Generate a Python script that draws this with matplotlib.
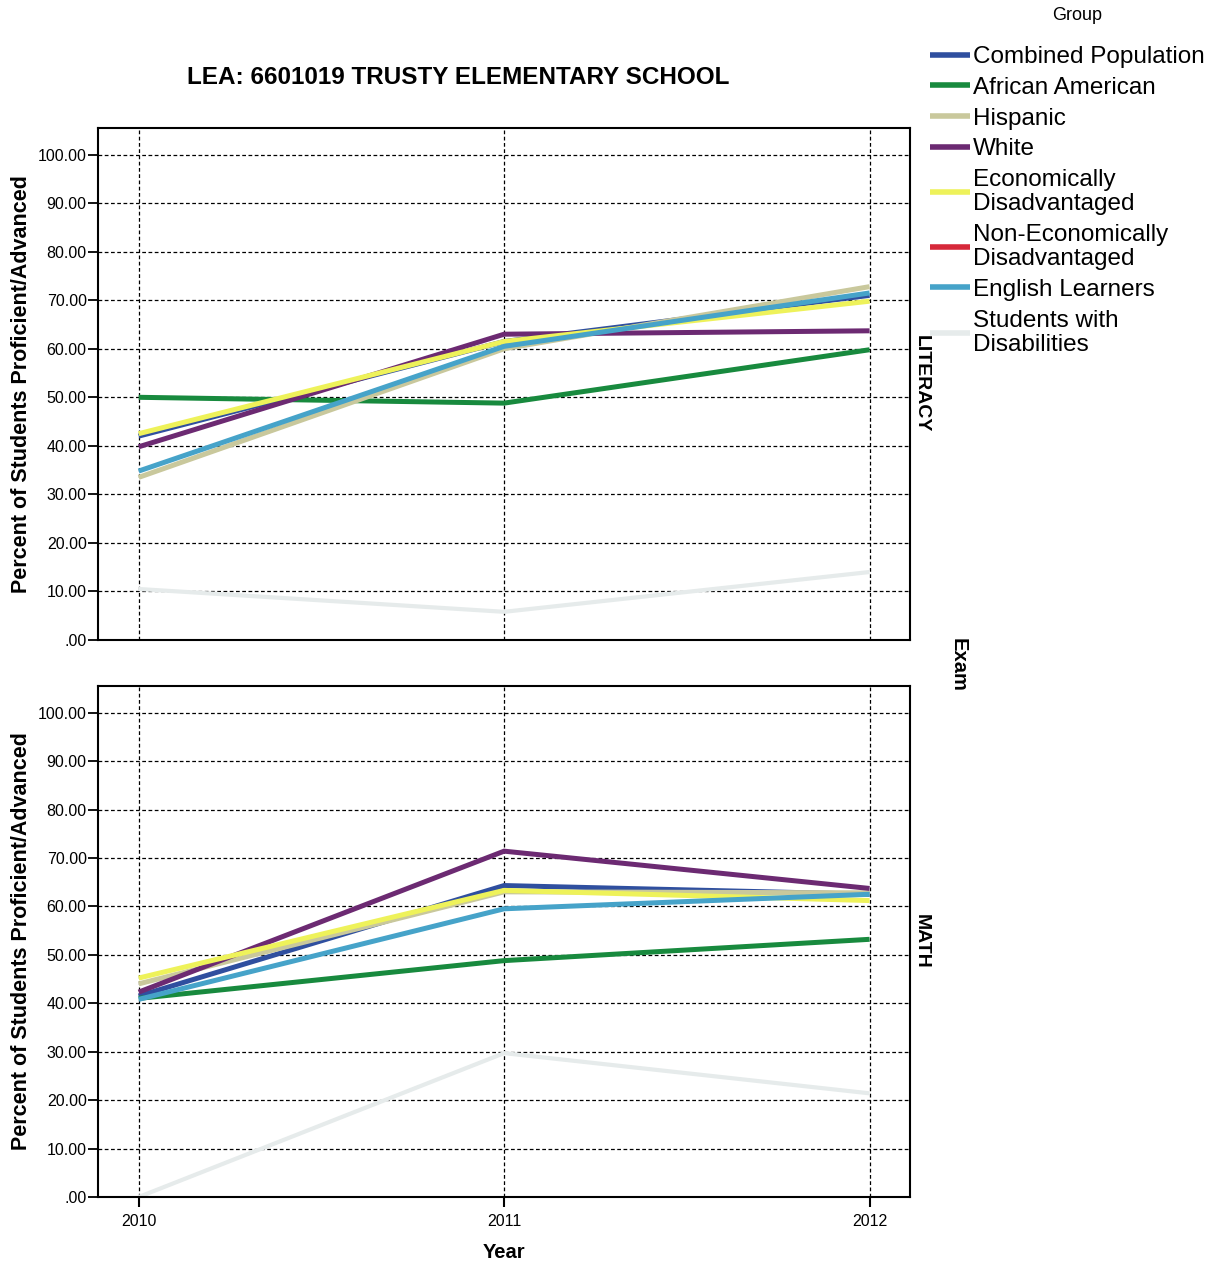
import numpy as np
import matplotlib
matplotlib.use("Agg")
import matplotlib.pyplot as plt

plt.rcParams['font.family'] = ['Liberation Sans', 'DejaVu Sans']

years = [2010, 2011, 2012]
groups = ["Combined Population", "African American", "Hispanic", "White",
          "Economically\nDisadvantaged", "Non-Economically\nDisadvantaged",
          "English Learners", "Students with\nDisabilities"]
colors = ["#2f4f9f", "#188a3e", "#c9c89c", "#6c2a72",
          "#eef25a", "#d6283a", "#46a3c9", "#e6ebeb"]

# literacy exam, percent proficient/advanced
literacy = {
    "Combined Population": [42.0, 61.5, 71.0],
    "African American": [50.0, 48.8, 59.8],
    "Hispanic": [33.5, 60.0, 72.8],
    "White": [39.8, 63.0, 63.7],
    "Economically\nDisadvantaged": [42.5, 61.5, 69.8],
    "Non-Economically\nDisadvantaged": [np.nan, np.nan, np.nan],
    "English Learners": [34.8, 60.5, 71.5],
    "Students with\nDisabilities": [10.5, 5.8, 14.0],
}

# math exam, percent proficient/advanced
math = {
    "Combined Population": [41.5, 64.3, 62.5],
    "African American": [41.0, 48.8, 53.2],
    "Hispanic": [44.0, 63.0, 62.8],
    "White": [42.3, 71.4, 63.7],
    "Economically\nDisadvantaged": [45.2, 63.3, 61.2],
    "Non-Economically\nDisadvantaged": [np.nan, np.nan, np.nan],
    "English Learners": [40.8, 59.5, 62.5],
    "Students with\nDisabilities": [0.0, 29.7, 21.4],
}

yticks = [0, 10, 20, 30, 40, 50, 60, 70, 80, 90, 100]
ytick_labels = [".00"] + ["%.2f" % v for v in yticks[1:]]

fig = plt.figure(figsize=(12.22, 12.68), dpi=100)
ax_top = fig.add_axes([0.080, 0.4953, 0.6645, 0.4038])
ax_bot = fig.add_axes([0.080, 0.0560, 0.6645, 0.4030])

handles = []
for ax, data, name in [(ax_top, literacy, "LITERACY"), (ax_bot, math, "MATH")]:
    for g, c in zip(groups, colors):
        lw = 3.0 if g.startswith("Students") else 3.6
        ln, = ax.plot(years, data[g], color=c, lw=lw, solid_capstyle='butt',
                      solid_joinstyle='miter', label=g)
        if ax is ax_top:
            handles.append(ln)
    ax.set_xlim(2009.888, 2012.11)
    ax.set_ylim(0, 105.5)
    ax.set_yticks(yticks)
    ax.set_yticklabels(ytick_labels, fontsize=11.5)
    ax.set_xticks(years)
    ax.grid(True, color='black', ls=(0, (3, 2)), lw=0.9)
    ax.set_axisbelow(True)
    for s in ax.spines.values():
        s.set_linewidth(1.5)
    ax.tick_params(axis='y', length=7, width=1.3, pad=1)
    ax.set_ylabel("Percent of Students Proficient/Advanced", fontsize=15.5,
                  fontweight='bold', labelpad=4)
    ax.text(1.004, 0.5, name, transform=ax.transAxes, rotation=270,
            ha='left', va='center', fontsize=14, fontweight='bold')

ax_top.tick_params(axis='x', length=0, labelbottom=False)
ax_bot.set_xticklabels([str(y) for y in years], fontsize=11.5)
ax_bot.tick_params(axis='x', length=7, width=1.5, pad=5)
ax_bot.set_xlabel("Year", fontsize=14.5, fontweight='bold', labelpad=10)

fig.text(458 / 1222, 1 - 77 / 1268, "LEA: 6601019 TRUSTY ELEMENTARY SCHOOL",
         ha='center', va='center', fontsize=17.5, fontweight='bold')
fig.text(958 / 1222, 1 - 665 / 1268, "Exam", rotation=270,
         ha='center', va='center', fontsize=14.5, fontweight='bold')
fig.text(1077 / 1222, 1 - 16 / 1268, "Group", ha='center', va='center',
         fontsize=13)

leg = fig.legend(handles, groups, loc='upper left',
                 bbox_to_anchor=(930 / 1222, 1 - 46 / 1268),
                 fontsize=17.5, frameon=False, handlelength=1.65,
                 handletextpad=0.1, labelspacing=0.36, borderpad=0,
                 borderaxespad=0)
for t in leg.get_texts():
    t.set_linespacing(1.13)
for h in leg.get_lines():
    h.set_linewidth(4)

fig.savefig("out.png", dpi=100)
